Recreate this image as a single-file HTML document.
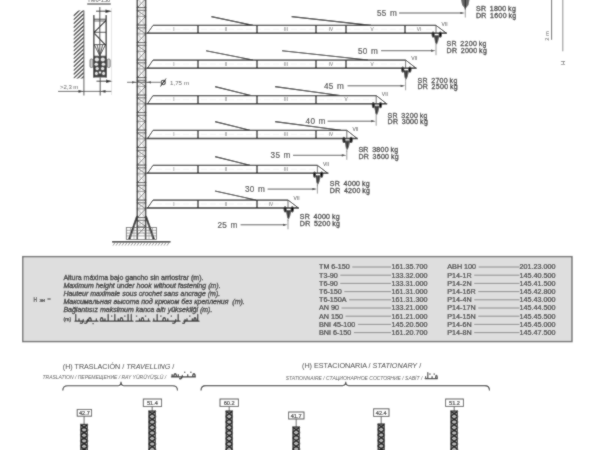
<!DOCTYPE html>
<html><head><meta charset="utf-8"><style>
html,body{margin:0;padding:0;background:#fff;width:600px;height:450px;overflow:hidden}
svg{display:block}
text{font-family:"Liberation Sans",sans-serif}
</style></head><body>
<svg width="600" height="450" viewBox="0 0 600 450">
<defs>
<filter id="bl" x="0" y="0" width="600" height="450" filterUnits="userSpaceOnUse"><feConvolveMatrix order="3" kernelMatrix="1 2 1 2 14 2 1 2 1" edgeMode="duplicate" preserveAlpha="true"/></filter>
<clipPath id="wallclip"><rect x="73.5" y="10.5" width="10.4" height="68.1"/></clipPath>

</defs>
<g filter="url(#bl)">
<rect width="600" height="450" fill="#fff"/>
<rect x="136.6" y="0" width="9.700000000000017" height="228" fill="#ffffff"/>
<line x1="136.60" y1="-9.90" x2="146.30" y2="-9.90" stroke="#222" stroke-width="0.9" />
<line x1="136.60" y1="-7.20" x2="146.30" y2="-7.20" stroke="#333" stroke-width="0.8" />
<line x1="136.60" y1="-1.10" x2="146.30" y2="-1.10" stroke="#666" stroke-width="0.7" />
<line x1="137.60" y1="-6.80" x2="145.30" y2="-1.40" stroke="#555" stroke-width="0.8" />
<line x1="145.30" y1="-6.80" x2="137.60" y2="-1.40" stroke="#999" stroke-width="0.5" />
<line x1="145.30" y1="-0.80" x2="137.60" y2="7.40" stroke="#555" stroke-width="0.8" />
<line x1="137.60" y1="-0.80" x2="145.30" y2="7.40" stroke="#999" stroke-width="0.5" />
<line x1="136.60" y1="7.60" x2="146.30" y2="7.60" stroke="#222" stroke-width="0.9" />
<line x1="136.60" y1="10.30" x2="146.30" y2="10.30" stroke="#333" stroke-width="0.8" />
<line x1="136.60" y1="16.40" x2="146.30" y2="16.40" stroke="#666" stroke-width="0.7" />
<line x1="137.60" y1="10.70" x2="145.30" y2="16.10" stroke="#555" stroke-width="0.8" />
<line x1="145.30" y1="10.70" x2="137.60" y2="16.10" stroke="#999" stroke-width="0.5" />
<line x1="145.30" y1="16.70" x2="137.60" y2="24.90" stroke="#555" stroke-width="0.8" />
<line x1="137.60" y1="16.70" x2="145.30" y2="24.90" stroke="#999" stroke-width="0.5" />
<line x1="136.60" y1="25.10" x2="146.30" y2="25.10" stroke="#222" stroke-width="0.9" />
<line x1="136.60" y1="27.80" x2="146.30" y2="27.80" stroke="#333" stroke-width="0.8" />
<line x1="136.60" y1="33.90" x2="146.30" y2="33.90" stroke="#666" stroke-width="0.7" />
<line x1="137.60" y1="28.20" x2="145.30" y2="33.60" stroke="#555" stroke-width="0.8" />
<line x1="145.30" y1="28.20" x2="137.60" y2="33.60" stroke="#999" stroke-width="0.5" />
<line x1="145.30" y1="34.20" x2="137.60" y2="42.40" stroke="#555" stroke-width="0.8" />
<line x1="137.60" y1="34.20" x2="145.30" y2="42.40" stroke="#999" stroke-width="0.5" />
<line x1="136.60" y1="42.60" x2="146.30" y2="42.60" stroke="#222" stroke-width="0.9" />
<line x1="136.60" y1="45.30" x2="146.30" y2="45.30" stroke="#333" stroke-width="0.8" />
<line x1="136.60" y1="51.40" x2="146.30" y2="51.40" stroke="#666" stroke-width="0.7" />
<line x1="137.60" y1="45.70" x2="145.30" y2="51.10" stroke="#555" stroke-width="0.8" />
<line x1="145.30" y1="45.70" x2="137.60" y2="51.10" stroke="#999" stroke-width="0.5" />
<line x1="145.30" y1="51.70" x2="137.60" y2="59.90" stroke="#555" stroke-width="0.8" />
<line x1="137.60" y1="51.70" x2="145.30" y2="59.90" stroke="#999" stroke-width="0.5" />
<line x1="136.60" y1="60.10" x2="146.30" y2="60.10" stroke="#222" stroke-width="0.9" />
<line x1="136.60" y1="62.80" x2="146.30" y2="62.80" stroke="#333" stroke-width="0.8" />
<line x1="136.60" y1="68.90" x2="146.30" y2="68.90" stroke="#666" stroke-width="0.7" />
<line x1="137.60" y1="63.20" x2="145.30" y2="68.60" stroke="#555" stroke-width="0.8" />
<line x1="145.30" y1="63.20" x2="137.60" y2="68.60" stroke="#999" stroke-width="0.5" />
<line x1="145.30" y1="69.20" x2="137.60" y2="77.40" stroke="#555" stroke-width="0.8" />
<line x1="137.60" y1="69.20" x2="145.30" y2="77.40" stroke="#999" stroke-width="0.5" />
<line x1="136.60" y1="77.60" x2="146.30" y2="77.60" stroke="#222" stroke-width="0.9" />
<line x1="136.60" y1="80.30" x2="146.30" y2="80.30" stroke="#333" stroke-width="0.8" />
<line x1="136.60" y1="86.40" x2="146.30" y2="86.40" stroke="#666" stroke-width="0.7" />
<line x1="137.60" y1="80.70" x2="145.30" y2="86.10" stroke="#555" stroke-width="0.8" />
<line x1="145.30" y1="80.70" x2="137.60" y2="86.10" stroke="#999" stroke-width="0.5" />
<line x1="145.30" y1="86.70" x2="137.60" y2="94.90" stroke="#555" stroke-width="0.8" />
<line x1="137.60" y1="86.70" x2="145.30" y2="94.90" stroke="#999" stroke-width="0.5" />
<line x1="136.60" y1="95.10" x2="146.30" y2="95.10" stroke="#222" stroke-width="0.9" />
<line x1="136.60" y1="97.80" x2="146.30" y2="97.80" stroke="#333" stroke-width="0.8" />
<line x1="136.60" y1="103.90" x2="146.30" y2="103.90" stroke="#666" stroke-width="0.7" />
<line x1="137.60" y1="98.20" x2="145.30" y2="103.60" stroke="#555" stroke-width="0.8" />
<line x1="145.30" y1="98.20" x2="137.60" y2="103.60" stroke="#999" stroke-width="0.5" />
<line x1="145.30" y1="104.20" x2="137.60" y2="112.40" stroke="#555" stroke-width="0.8" />
<line x1="137.60" y1="104.20" x2="145.30" y2="112.40" stroke="#999" stroke-width="0.5" />
<line x1="136.60" y1="112.60" x2="146.30" y2="112.60" stroke="#222" stroke-width="0.9" />
<line x1="136.60" y1="115.30" x2="146.30" y2="115.30" stroke="#333" stroke-width="0.8" />
<line x1="136.60" y1="121.40" x2="146.30" y2="121.40" stroke="#666" stroke-width="0.7" />
<line x1="137.60" y1="115.70" x2="145.30" y2="121.10" stroke="#555" stroke-width="0.8" />
<line x1="145.30" y1="115.70" x2="137.60" y2="121.10" stroke="#999" stroke-width="0.5" />
<line x1="145.30" y1="121.70" x2="137.60" y2="129.90" stroke="#555" stroke-width="0.8" />
<line x1="137.60" y1="121.70" x2="145.30" y2="129.90" stroke="#999" stroke-width="0.5" />
<line x1="136.60" y1="130.10" x2="146.30" y2="130.10" stroke="#222" stroke-width="0.9" />
<line x1="136.60" y1="132.80" x2="146.30" y2="132.80" stroke="#333" stroke-width="0.8" />
<line x1="136.60" y1="138.90" x2="146.30" y2="138.90" stroke="#666" stroke-width="0.7" />
<line x1="137.60" y1="133.20" x2="145.30" y2="138.60" stroke="#555" stroke-width="0.8" />
<line x1="145.30" y1="133.20" x2="137.60" y2="138.60" stroke="#999" stroke-width="0.5" />
<line x1="145.30" y1="139.20" x2="137.60" y2="147.40" stroke="#555" stroke-width="0.8" />
<line x1="137.60" y1="139.20" x2="145.30" y2="147.40" stroke="#999" stroke-width="0.5" />
<line x1="136.60" y1="147.60" x2="146.30" y2="147.60" stroke="#222" stroke-width="0.9" />
<line x1="136.60" y1="150.30" x2="146.30" y2="150.30" stroke="#333" stroke-width="0.8" />
<line x1="136.60" y1="156.40" x2="146.30" y2="156.40" stroke="#666" stroke-width="0.7" />
<line x1="137.60" y1="150.70" x2="145.30" y2="156.10" stroke="#555" stroke-width="0.8" />
<line x1="145.30" y1="150.70" x2="137.60" y2="156.10" stroke="#999" stroke-width="0.5" />
<line x1="145.30" y1="156.70" x2="137.60" y2="164.90" stroke="#555" stroke-width="0.8" />
<line x1="137.60" y1="156.70" x2="145.30" y2="164.90" stroke="#999" stroke-width="0.5" />
<line x1="136.60" y1="165.10" x2="146.30" y2="165.10" stroke="#222" stroke-width="0.9" />
<line x1="136.60" y1="167.80" x2="146.30" y2="167.80" stroke="#333" stroke-width="0.8" />
<line x1="136.60" y1="173.90" x2="146.30" y2="173.90" stroke="#666" stroke-width="0.7" />
<line x1="137.60" y1="168.20" x2="145.30" y2="173.60" stroke="#555" stroke-width="0.8" />
<line x1="145.30" y1="168.20" x2="137.60" y2="173.60" stroke="#999" stroke-width="0.5" />
<line x1="145.30" y1="174.20" x2="137.60" y2="182.40" stroke="#555" stroke-width="0.8" />
<line x1="137.60" y1="174.20" x2="145.30" y2="182.40" stroke="#999" stroke-width="0.5" />
<line x1="136.60" y1="182.60" x2="146.30" y2="182.60" stroke="#222" stroke-width="0.9" />
<line x1="136.60" y1="185.30" x2="146.30" y2="185.30" stroke="#333" stroke-width="0.8" />
<line x1="136.60" y1="191.40" x2="146.30" y2="191.40" stroke="#666" stroke-width="0.7" />
<line x1="137.60" y1="185.70" x2="145.30" y2="191.10" stroke="#555" stroke-width="0.8" />
<line x1="145.30" y1="185.70" x2="137.60" y2="191.10" stroke="#999" stroke-width="0.5" />
<line x1="145.30" y1="191.70" x2="137.60" y2="199.90" stroke="#555" stroke-width="0.8" />
<line x1="137.60" y1="191.70" x2="145.30" y2="199.90" stroke="#999" stroke-width="0.5" />
<line x1="136.60" y1="200.10" x2="146.30" y2="200.10" stroke="#222" stroke-width="0.9" />
<line x1="136.60" y1="202.80" x2="146.30" y2="202.80" stroke="#333" stroke-width="0.8" />
<line x1="136.60" y1="208.90" x2="146.30" y2="208.90" stroke="#666" stroke-width="0.7" />
<line x1="137.60" y1="203.20" x2="145.30" y2="208.60" stroke="#555" stroke-width="0.8" />
<line x1="145.30" y1="203.20" x2="137.60" y2="208.60" stroke="#999" stroke-width="0.5" />
<line x1="145.30" y1="209.20" x2="137.60" y2="217.40" stroke="#555" stroke-width="0.8" />
<line x1="137.60" y1="209.20" x2="145.30" y2="217.40" stroke="#999" stroke-width="0.5" />
<line x1="136.60" y1="217.60" x2="146.30" y2="217.60" stroke="#222" stroke-width="0.9" />
<line x1="136.60" y1="220.30" x2="146.30" y2="220.30" stroke="#333" stroke-width="0.8" />
<line x1="136.60" y1="226.40" x2="146.30" y2="226.40" stroke="#666" stroke-width="0.7" />
<line x1="137.60" y1="220.70" x2="145.30" y2="226.10" stroke="#555" stroke-width="0.8" />
<line x1="145.30" y1="220.70" x2="137.60" y2="226.10" stroke="#999" stroke-width="0.5" />
<line x1="145.30" y1="226.70" x2="137.60" y2="234.90" stroke="#555" stroke-width="0.8" />
<line x1="137.60" y1="226.70" x2="145.30" y2="234.90" stroke="#999" stroke-width="0.5" />
<line x1="139.90" y1="0.00" x2="139.90" y2="228.00" stroke="#aaa" stroke-width="0.5" />
<line x1="143.20" y1="0.00" x2="143.20" y2="228.00" stroke="#aaa" stroke-width="0.5" />
<line x1="137.30" y1="0.00" x2="137.30" y2="240.00" stroke="#333" stroke-width="1.5" />
<line x1="145.60" y1="0.00" x2="145.60" y2="240.00" stroke="#333" stroke-width="1.5" />
<line x1="137.00" y1="216.00" x2="128.80" y2="239.50" stroke="#1e1e1e" stroke-width="1.6" />
<line x1="146.00" y1="216.00" x2="154.20" y2="239.50" stroke="#1e1e1e" stroke-width="1.6" />
<rect x="126.3" y="227.5" width="30.2" height="12" fill="none" stroke="#555" stroke-width="0.8"/>
<line x1="126.30" y1="230.30" x2="156.50" y2="230.30" stroke="#666" stroke-width="0.6" />
<line x1="126.30" y1="233.10" x2="156.50" y2="233.10" stroke="#666" stroke-width="0.6" />
<line x1="126.30" y1="235.90" x2="156.50" y2="235.90" stroke="#666" stroke-width="0.6" />
<line x1="130.50" y1="227.50" x2="130.50" y2="239.50" stroke="#777" stroke-width="0.5" />
<line x1="134.00" y1="227.50" x2="134.00" y2="239.50" stroke="#777" stroke-width="0.5" />
<line x1="149.00" y1="227.50" x2="149.00" y2="239.50" stroke="#777" stroke-width="0.5" />
<line x1="152.50" y1="227.50" x2="152.50" y2="239.50" stroke="#777" stroke-width="0.5" />
<line x1="137.50" y1="217.00" x2="130.00" y2="239.50" stroke="#444" stroke-width="0.8" />
<line x1="145.50" y1="217.00" x2="153.00" y2="239.50" stroke="#444" stroke-width="0.8" />
<line x1="112.00" y1="241.80" x2="170.50" y2="241.80" stroke="#1e1e1e" stroke-width="1.4" />
<line x1="115.00" y1="242.50" x2="113.00" y2="245.60" stroke="#666" stroke-width="0.7" />
<line x1="118.00" y1="242.50" x2="116.00" y2="245.60" stroke="#666" stroke-width="0.7" />
<line x1="121.00" y1="242.50" x2="119.00" y2="245.60" stroke="#666" stroke-width="0.7" />
<line x1="124.00" y1="242.50" x2="122.00" y2="245.60" stroke="#666" stroke-width="0.7" />
<line x1="127.00" y1="242.50" x2="125.00" y2="245.60" stroke="#666" stroke-width="0.7" />
<line x1="130.00" y1="242.50" x2="128.00" y2="245.60" stroke="#666" stroke-width="0.7" />
<line x1="133.00" y1="242.50" x2="131.00" y2="245.60" stroke="#666" stroke-width="0.7" />
<line x1="136.00" y1="242.50" x2="134.00" y2="245.60" stroke="#666" stroke-width="0.7" />
<line x1="139.00" y1="242.50" x2="137.00" y2="245.60" stroke="#666" stroke-width="0.7" />
<line x1="142.00" y1="242.50" x2="140.00" y2="245.60" stroke="#666" stroke-width="0.7" />
<line x1="145.00" y1="242.50" x2="143.00" y2="245.60" stroke="#666" stroke-width="0.7" />
<line x1="148.00" y1="242.50" x2="146.00" y2="245.60" stroke="#666" stroke-width="0.7" />
<line x1="151.00" y1="242.50" x2="149.00" y2="245.60" stroke="#666" stroke-width="0.7" />
<line x1="154.00" y1="242.50" x2="152.00" y2="245.60" stroke="#666" stroke-width="0.7" />
<line x1="157.00" y1="242.50" x2="155.00" y2="245.60" stroke="#666" stroke-width="0.7" />
<line x1="160.00" y1="242.50" x2="158.00" y2="245.60" stroke="#666" stroke-width="0.7" />
<line x1="163.00" y1="242.50" x2="161.00" y2="245.60" stroke="#666" stroke-width="0.7" />
<line x1="166.00" y1="242.50" x2="164.00" y2="245.60" stroke="#666" stroke-width="0.7" />
<line x1="169.00" y1="242.50" x2="167.00" y2="245.60" stroke="#666" stroke-width="0.7" />
<line x1="153.00" y1="25.40" x2="436.00" y2="25.40" stroke="#1e1e1e" stroke-width="1.25" />
<line x1="146.50" y1="33.20" x2="447.00" y2="33.20" stroke="#1e1e1e" stroke-width="1.5" />
<line x1="147.50" y1="33.20" x2="153.00" y2="25.40" stroke="#1e1e1e" stroke-width="1.0" />
<line x1="436.00" y1="25.40" x2="446.50" y2="33.20" stroke="#1e1e1e" stroke-width="1.0" />
<line x1="156.00" y1="29.30" x2="434.00" y2="29.30" stroke="#dedede" stroke-width="0.35" stroke-dasharray="6,3"/>
<line x1="198.00" y1="25.40" x2="198.00" y2="33.20" stroke="#1e1e1e" stroke-width="1.3" />
<line x1="257.00" y1="25.40" x2="257.00" y2="33.20" stroke="#1e1e1e" stroke-width="1.3" />
<line x1="316.00" y1="25.40" x2="316.00" y2="33.20" stroke="#1e1e1e" stroke-width="1.3" />
<line x1="346.00" y1="25.40" x2="346.00" y2="33.20" stroke="#1e1e1e" stroke-width="1.3" />
<line x1="405.00" y1="25.40" x2="405.00" y2="33.20" stroke="#1e1e1e" stroke-width="1.3" />
<line x1="436.00" y1="25.40" x2="436.00" y2="33.20" stroke="#444" stroke-width="0.8" />
<text x="174.00" y="31.00" font-size="4.7" fill="#666" text-anchor="middle" >I</text>
<text x="226.00" y="31.00" font-size="4.7" fill="#666" text-anchor="middle" >II</text>
<text x="286.00" y="31.00" font-size="4.7" fill="#666" text-anchor="middle" >III</text>
<text x="331.00" y="31.00" font-size="4.7" fill="#666" text-anchor="middle" >IV</text>
<text x="372.00" y="31.00" font-size="4.7" fill="#666" text-anchor="middle" >V</text>
<text x="419.00" y="31.00" font-size="4.7" fill="#666" text-anchor="middle" >VI</text>
<line x1="211.40" y1="16.60" x2="253.00" y2="25.40" stroke="#111" stroke-width="1.15" />
<line x1="291.60" y1="16.60" x2="371.00" y2="25.40" stroke="#111" stroke-width="1.15" />
<text x="441.60" y="25.70" font-size="5.0" fill="#444" text-anchor="start" >VII</text>
<ellipse cx="433.1" cy="34.5" rx="1.5" ry="3.1" fill="#222"/>
<ellipse cx="440.3" cy="34.5" rx="1.6" ry="3.1" fill="#111"/>
<path d="M433.8,35.2 L439.6,35.2 L438.2,41.2 L437.0,44.2 L436.2,44.2 L435.0,41.2 Z" fill="#555"/>
<line x1="434.90" y1="35.20" x2="435.50" y2="43.20" stroke="#222" stroke-width="0.6" />
<line x1="437.10" y1="35.20" x2="436.50" y2="43.20" stroke="#222" stroke-width="0.6" />
<line x1="436.00" y1="43.20" x2="436.00" y2="46.20" stroke="#555" stroke-width="0.6" />
<line x1="153.00" y1="60.00" x2="405.60" y2="60.00" stroke="#1e1e1e" stroke-width="1.25" />
<line x1="146.50" y1="68.20" x2="416.60" y2="68.20" stroke="#1e1e1e" stroke-width="1.5" />
<line x1="147.50" y1="68.20" x2="153.00" y2="60.00" stroke="#1e1e1e" stroke-width="1.0" />
<line x1="405.60" y1="60.00" x2="416.10" y2="68.20" stroke="#1e1e1e" stroke-width="1.0" />
<line x1="156.00" y1="64.10" x2="403.60" y2="64.10" stroke="#dedede" stroke-width="0.35" stroke-dasharray="6,3"/>
<line x1="198.00" y1="60.00" x2="198.00" y2="68.20" stroke="#1e1e1e" stroke-width="1.3" />
<line x1="257.00" y1="60.00" x2="257.00" y2="68.20" stroke="#1e1e1e" stroke-width="1.3" />
<line x1="316.00" y1="60.00" x2="316.00" y2="68.20" stroke="#1e1e1e" stroke-width="1.3" />
<line x1="346.00" y1="60.00" x2="346.00" y2="68.20" stroke="#1e1e1e" stroke-width="1.3" />
<line x1="405.60" y1="60.00" x2="405.60" y2="68.20" stroke="#444" stroke-width="0.8" />
<text x="174.00" y="65.80" font-size="4.7" fill="#666" text-anchor="middle" >I</text>
<text x="226.00" y="65.80" font-size="4.7" fill="#666" text-anchor="middle" >II</text>
<text x="286.00" y="65.80" font-size="4.7" fill="#666" text-anchor="middle" >III</text>
<text x="331.00" y="65.80" font-size="4.7" fill="#666" text-anchor="middle" >IV</text>
<text x="372.00" y="65.80" font-size="4.7" fill="#666" text-anchor="middle" >V</text>
<line x1="206.00" y1="50.80" x2="253.00" y2="60.00" stroke="#111" stroke-width="1.15" />
<line x1="282.00" y1="50.80" x2="368.00" y2="60.00" stroke="#111" stroke-width="1.15" />
<text x="411.20" y="60.30" font-size="5.0" fill="#444" text-anchor="start" >VII</text>
<ellipse cx="402.70000000000005" cy="69.5" rx="1.5" ry="3.1" fill="#222"/>
<ellipse cx="409.90000000000003" cy="69.5" rx="1.6" ry="3.1" fill="#111"/>
<path d="M403.40000000000003,70.2 L409.20000000000005,70.2 L407.8,76.2 L406.6,79.2 L405.8,79.2 L404.6,76.2 Z" fill="#555"/>
<line x1="404.50" y1="70.20" x2="405.10" y2="78.20" stroke="#222" stroke-width="0.6" />
<line x1="406.70" y1="70.20" x2="406.10" y2="78.20" stroke="#222" stroke-width="0.6" />
<line x1="405.60" y1="78.20" x2="405.60" y2="81.20" stroke="#555" stroke-width="0.6" />
<line x1="153.00" y1="95.50" x2="376.20" y2="95.50" stroke="#1e1e1e" stroke-width="1.25" />
<line x1="146.50" y1="103.80" x2="387.20" y2="103.80" stroke="#1e1e1e" stroke-width="1.5" />
<line x1="147.50" y1="103.80" x2="153.00" y2="95.50" stroke="#1e1e1e" stroke-width="1.0" />
<line x1="376.20" y1="95.50" x2="386.70" y2="103.80" stroke="#1e1e1e" stroke-width="1.0" />
<line x1="156.00" y1="99.65" x2="374.20" y2="99.65" stroke="#dedede" stroke-width="0.35" stroke-dasharray="6,3"/>
<line x1="198.00" y1="95.50" x2="198.00" y2="103.80" stroke="#1e1e1e" stroke-width="1.3" />
<line x1="257.00" y1="95.50" x2="257.00" y2="103.80" stroke="#1e1e1e" stroke-width="1.3" />
<line x1="316.00" y1="95.50" x2="316.00" y2="103.80" stroke="#1e1e1e" stroke-width="1.3" />
<line x1="376.20" y1="95.50" x2="376.20" y2="103.80" stroke="#444" stroke-width="0.8" />
<text x="174.00" y="101.35" font-size="4.7" fill="#666" text-anchor="middle" >I</text>
<text x="226.00" y="101.35" font-size="4.7" fill="#666" text-anchor="middle" >II</text>
<text x="286.00" y="101.35" font-size="4.7" fill="#666" text-anchor="middle" >III</text>
<text x="346.00" y="101.35" font-size="4.7" fill="#666" text-anchor="middle" >V</text>
<line x1="215.00" y1="86.60" x2="251.00" y2="95.50" stroke="#111" stroke-width="1.15" />
<line x1="275.00" y1="86.60" x2="340.00" y2="95.50" stroke="#111" stroke-width="1.15" />
<text x="381.80" y="95.80" font-size="5.0" fill="#444" text-anchor="start" >VII</text>
<ellipse cx="373.3" cy="105.1" rx="1.5" ry="3.1" fill="#222"/>
<ellipse cx="380.5" cy="105.1" rx="1.6" ry="3.1" fill="#111"/>
<path d="M374.0,105.8 L379.8,105.8 L378.4,111.8 L377.2,114.8 L376.4,114.8 L375.2,111.8 Z" fill="#555"/>
<line x1="375.10" y1="105.80" x2="375.70" y2="113.80" stroke="#222" stroke-width="0.6" />
<line x1="377.30" y1="105.80" x2="376.70" y2="113.80" stroke="#222" stroke-width="0.6" />
<line x1="376.20" y1="113.80" x2="376.20" y2="116.80" stroke="#555" stroke-width="0.6" />
<line x1="153.00" y1="130.30" x2="346.80" y2="130.30" stroke="#1e1e1e" stroke-width="1.25" />
<line x1="146.50" y1="138.60" x2="357.80" y2="138.60" stroke="#1e1e1e" stroke-width="1.5" />
<line x1="147.50" y1="138.60" x2="153.00" y2="130.30" stroke="#1e1e1e" stroke-width="1.0" />
<line x1="346.80" y1="130.30" x2="357.30" y2="138.60" stroke="#1e1e1e" stroke-width="1.0" />
<line x1="156.00" y1="134.45" x2="344.80" y2="134.45" stroke="#dedede" stroke-width="0.35" stroke-dasharray="6,3"/>
<line x1="198.00" y1="130.30" x2="198.00" y2="138.60" stroke="#1e1e1e" stroke-width="1.3" />
<line x1="257.00" y1="130.30" x2="257.00" y2="138.60" stroke="#1e1e1e" stroke-width="1.3" />
<line x1="316.00" y1="130.30" x2="316.00" y2="138.60" stroke="#1e1e1e" stroke-width="1.3" />
<line x1="346.80" y1="130.30" x2="346.80" y2="138.60" stroke="#444" stroke-width="0.8" />
<text x="174.00" y="136.15" font-size="4.7" fill="#666" text-anchor="middle" >I</text>
<text x="226.00" y="136.15" font-size="4.7" fill="#666" text-anchor="middle" >II</text>
<text x="286.00" y="136.15" font-size="4.7" fill="#666" text-anchor="middle" >III</text>
<text x="331.00" y="136.15" font-size="4.7" fill="#666" text-anchor="middle" >IV</text>
<line x1="215.00" y1="121.60" x2="250.00" y2="130.30" stroke="#111" stroke-width="1.15" />
<line x1="275.00" y1="121.60" x2="341.00" y2="130.30" stroke="#111" stroke-width="1.15" />
<text x="352.40" y="130.60" font-size="5.0" fill="#444" text-anchor="start" >VII</text>
<ellipse cx="343.90000000000003" cy="139.9" rx="1.5" ry="3.1" fill="#222"/>
<ellipse cx="351.1" cy="139.9" rx="1.6" ry="3.1" fill="#111"/>
<path d="M344.6,140.6 L350.40000000000003,140.6 L349.0,146.6 L347.8,149.6 L347.0,149.6 L345.8,146.6 Z" fill="#555"/>
<line x1="345.70" y1="140.60" x2="346.30" y2="148.60" stroke="#222" stroke-width="0.6" />
<line x1="347.90" y1="140.60" x2="347.30" y2="148.60" stroke="#222" stroke-width="0.6" />
<line x1="346.80" y1="148.60" x2="346.80" y2="151.60" stroke="#555" stroke-width="0.6" />
<line x1="153.00" y1="165.30" x2="317.40" y2="165.30" stroke="#1e1e1e" stroke-width="1.25" />
<line x1="146.50" y1="173.30" x2="328.40" y2="173.30" stroke="#1e1e1e" stroke-width="1.5" />
<line x1="147.50" y1="173.30" x2="153.00" y2="165.30" stroke="#1e1e1e" stroke-width="1.0" />
<line x1="317.40" y1="165.30" x2="327.90" y2="173.30" stroke="#1e1e1e" stroke-width="1.0" />
<line x1="156.00" y1="169.30" x2="315.40" y2="169.30" stroke="#dedede" stroke-width="0.35" stroke-dasharray="6,3"/>
<line x1="198.00" y1="165.30" x2="198.00" y2="173.30" stroke="#1e1e1e" stroke-width="1.3" />
<line x1="257.00" y1="165.30" x2="257.00" y2="173.30" stroke="#1e1e1e" stroke-width="1.3" />
<line x1="317.40" y1="165.30" x2="317.40" y2="173.30" stroke="#444" stroke-width="0.8" />
<text x="174.00" y="171.00" font-size="4.7" fill="#666" text-anchor="middle" >I</text>
<text x="226.00" y="171.00" font-size="4.7" fill="#666" text-anchor="middle" >II</text>
<text x="286.00" y="171.00" font-size="4.7" fill="#666" text-anchor="middle" >III</text>
<line x1="215.00" y1="156.60" x2="250.00" y2="165.30" stroke="#111" stroke-width="1.15" />
<text x="323.00" y="165.60" font-size="5.0" fill="#444" text-anchor="start" >VII</text>
<ellipse cx="314.5" cy="174.60000000000002" rx="1.5" ry="3.1" fill="#222"/>
<ellipse cx="321.7" cy="174.60000000000002" rx="1.6" ry="3.1" fill="#111"/>
<path d="M315.2,175.3 L321.0,175.3 L319.59999999999997,181.3 L318.4,184.3 L317.59999999999997,184.3 L316.4,181.3 Z" fill="#555"/>
<line x1="316.30" y1="175.30" x2="316.90" y2="183.30" stroke="#222" stroke-width="0.6" />
<line x1="318.50" y1="175.30" x2="317.90" y2="183.30" stroke="#222" stroke-width="0.6" />
<line x1="317.40" y1="183.30" x2="317.40" y2="186.30" stroke="#555" stroke-width="0.6" />
<line x1="153.00" y1="200.00" x2="288.00" y2="200.00" stroke="#1e1e1e" stroke-width="1.25" />
<line x1="146.50" y1="208.00" x2="299.00" y2="208.00" stroke="#1e1e1e" stroke-width="1.5" />
<line x1="147.50" y1="208.00" x2="153.00" y2="200.00" stroke="#1e1e1e" stroke-width="1.0" />
<line x1="288.00" y1="200.00" x2="298.50" y2="208.00" stroke="#1e1e1e" stroke-width="1.0" />
<line x1="156.00" y1="204.00" x2="286.00" y2="204.00" stroke="#dedede" stroke-width="0.35" stroke-dasharray="6,3"/>
<line x1="198.00" y1="200.00" x2="198.00" y2="208.00" stroke="#1e1e1e" stroke-width="1.3" />
<line x1="257.00" y1="200.00" x2="257.00" y2="208.00" stroke="#1e1e1e" stroke-width="1.3" />
<line x1="288.00" y1="200.00" x2="288.00" y2="208.00" stroke="#444" stroke-width="0.8" />
<text x="174.00" y="205.70" font-size="4.7" fill="#666" text-anchor="middle" >I</text>
<text x="226.00" y="205.70" font-size="4.7" fill="#666" text-anchor="middle" >II</text>
<text x="271.00" y="205.70" font-size="4.7" fill="#666" text-anchor="middle" >IV</text>
<line x1="215.00" y1="191.00" x2="256.00" y2="200.00" stroke="#111" stroke-width="1.15" />
<text x="293.60" y="200.30" font-size="5.0" fill="#444" text-anchor="start" >VII</text>
<ellipse cx="285.1" cy="209.3" rx="1.5" ry="3.1" fill="#222"/>
<ellipse cx="292.3" cy="209.3" rx="1.6" ry="3.1" fill="#111"/>
<path d="M285.8,210.0 L291.6,210.0 L290.2,216.0 L289.0,219.0 L288.2,219.0 L287.0,216.0 Z" fill="#555"/>
<line x1="286.90" y1="210.00" x2="287.50" y2="218.00" stroke="#222" stroke-width="0.6" />
<line x1="289.10" y1="210.00" x2="288.50" y2="218.00" stroke="#222" stroke-width="0.6" />
<line x1="288.00" y1="218.00" x2="288.00" y2="221.00" stroke="#555" stroke-width="0.6" />
<path d="M460.8,-1 L469.7,-1 L468.5,5 L466.1,8 L465.3,9.8 L464.5,8 L462.1,5 Z" fill="#666"/>
<line x1="465.30" y1="-1.00" x2="465.30" y2="9.50" stroke="#222" stroke-width="1.0" />
<text x="377.00" y="15.70" font-size="8.2" fill="#333" text-anchor="start" letter-spacing="0.3" stroke="#333" stroke-width="0.12">55<tspan dx="3.2">m</tspan></text>
<line x1="399.00" y1="13.00" x2="462.30" y2="13.00" stroke="#444" stroke-width="0.9" />
<path d="M464.8,13.0 L460.3,11.9 L460.3,14.1 Z" fill="#333"/>
<line x1="465.30" y1="8.50" x2="465.30" y2="17.50" stroke="#555" stroke-width="0.6" />
<text x="358.00" y="53.50" font-size="8.2" fill="#333" text-anchor="start" letter-spacing="0.3" stroke="#333" stroke-width="0.12">50<tspan dx="3.2">m</tspan></text>
<line x1="381.00" y1="50.70" x2="433.00" y2="50.70" stroke="#444" stroke-width="0.9" />
<path d="M435.5,50.7 L431.0,49.6 L431.0,51.800000000000004 Z" fill="#333"/>
<line x1="436.00" y1="46.20" x2="436.00" y2="55.20" stroke="#555" stroke-width="0.6" />
<text x="324.00" y="88.60" font-size="8.2" fill="#333" text-anchor="start" letter-spacing="0.3" stroke="#333" stroke-width="0.12">45<tspan dx="3.2">m</tspan></text>
<line x1="347.50" y1="85.80" x2="402.60" y2="85.80" stroke="#444" stroke-width="0.9" />
<path d="M405.1,85.8 L400.6,84.7 L400.6,86.89999999999999 Z" fill="#333"/>
<line x1="405.60" y1="81.30" x2="405.60" y2="90.30" stroke="#555" stroke-width="0.6" />
<text x="305.60" y="124.20" font-size="8.2" fill="#333" text-anchor="start" letter-spacing="0.3" stroke="#333" stroke-width="0.12">40<tspan dx="3.2">m</tspan></text>
<line x1="327.60" y1="121.20" x2="373.20" y2="121.20" stroke="#444" stroke-width="0.9" />
<path d="M375.7,121.2 L371.2,120.10000000000001 L371.2,122.3 Z" fill="#333"/>
<line x1="376.20" y1="116.70" x2="376.20" y2="125.70" stroke="#555" stroke-width="0.6" />
<text x="270.60" y="158.30" font-size="8.2" fill="#333" text-anchor="start" letter-spacing="0.3" stroke="#333" stroke-width="0.12">35<tspan dx="3.2">m</tspan></text>
<line x1="293.00" y1="155.30" x2="343.80" y2="155.30" stroke="#444" stroke-width="0.9" />
<path d="M346.3,155.3 L341.8,154.20000000000002 L341.8,156.4 Z" fill="#333"/>
<line x1="346.80" y1="150.80" x2="346.80" y2="159.80" stroke="#555" stroke-width="0.6" />
<text x="245.00" y="191.80" font-size="8.2" fill="#333" text-anchor="start" letter-spacing="0.3" stroke="#333" stroke-width="0.12">30<tspan dx="3.2">m</tspan></text>
<line x1="267.60" y1="189.10" x2="314.40" y2="189.10" stroke="#444" stroke-width="0.9" />
<path d="M316.9,189.1 L312.4,188.0 L312.4,190.2 Z" fill="#333"/>
<line x1="317.40" y1="184.60" x2="317.40" y2="193.60" stroke="#555" stroke-width="0.6" />
<text x="217.50" y="227.80" font-size="8.2" fill="#333" text-anchor="start" letter-spacing="0.3" stroke="#333" stroke-width="0.12">25<tspan dx="3.2">m</tspan></text>
<line x1="240.60" y1="224.80" x2="285.00" y2="224.80" stroke="#444" stroke-width="0.9" />
<path d="M287.5,224.8 L283.0,223.70000000000002 L283.0,225.9 Z" fill="#333"/>
<line x1="288.00" y1="220.30" x2="288.00" y2="229.30" stroke="#555" stroke-width="0.6" />
<text x="476.00" y="10.80" font-size="7.0" fill="#333" text-anchor="start" letter-spacing="0.3" stroke="#333" stroke-width="0.28">SR<tspan dx="3.4">1800</tspan><tspan dx="1.6">kg</tspan></text>
<text x="476.00" y="17.60" font-size="7.0" fill="#333" text-anchor="start" letter-spacing="0.3" stroke="#333" stroke-width="0.28">DR<tspan dx="3.4">1600</tspan><tspan dx="1.6">kg</tspan></text>
<text x="446.60" y="46.30" font-size="7.0" fill="#333" text-anchor="start" letter-spacing="0.3" stroke="#333" stroke-width="0.28">SR<tspan dx="3.4">2200</tspan><tspan dx="1.6">kg</tspan></text>
<text x="446.60" y="52.90" font-size="7.0" fill="#333" text-anchor="start" letter-spacing="0.3" stroke="#333" stroke-width="0.28">DR<tspan dx="3.4">2000</tspan><tspan dx="1.6">kg</tspan></text>
<text x="417.50" y="82.90" font-size="7.0" fill="#333" text-anchor="start" letter-spacing="0.3" stroke="#333" stroke-width="0.28">SR<tspan dx="3.4">2700</tspan><tspan dx="1.6">kg</tspan></text>
<text x="417.50" y="89.40" font-size="7.0" fill="#333" text-anchor="start" letter-spacing="0.3" stroke="#333" stroke-width="0.28">DR<tspan dx="3.4">2500</tspan><tspan dx="1.6">kg</tspan></text>
<text x="387.60" y="117.90" font-size="7.0" fill="#333" text-anchor="start" letter-spacing="0.3" stroke="#333" stroke-width="0.28">SR<tspan dx="3.4">3200</tspan><tspan dx="1.6">kg</tspan></text>
<text x="387.60" y="124.40" font-size="7.0" fill="#333" text-anchor="start" letter-spacing="0.3" stroke="#333" stroke-width="0.28">DR<tspan dx="3.4">3000</tspan><tspan dx="1.6">kg</tspan></text>
<text x="358.40" y="152.30" font-size="7.0" fill="#333" text-anchor="start" letter-spacing="0.3" stroke="#333" stroke-width="0.28">SR<tspan dx="3.4">3800</tspan><tspan dx="1.6">kg</tspan></text>
<text x="358.40" y="158.80" font-size="7.0" fill="#333" text-anchor="start" letter-spacing="0.3" stroke="#333" stroke-width="0.28">DR<tspan dx="3.4">3600</tspan><tspan dx="1.6">kg</tspan></text>
<text x="329.80" y="185.90" font-size="7.0" fill="#333" text-anchor="start" letter-spacing="0.3" stroke="#333" stroke-width="0.28">SR<tspan dx="3.4">4000</tspan><tspan dx="1.6">kg</tspan></text>
<text x="329.80" y="192.60" font-size="7.0" fill="#333" text-anchor="start" letter-spacing="0.3" stroke="#333" stroke-width="0.28">DR<tspan dx="3.4">4200</tspan><tspan dx="1.6">kg</tspan></text>
<text x="299.80" y="218.90" font-size="7.0" fill="#333" text-anchor="start" letter-spacing="0.3" stroke="#333" stroke-width="0.28">SR<tspan dx="3.4">4000</tspan><tspan dx="1.6">kg</tspan></text>
<text x="299.80" y="226.40" font-size="7.0" fill="#333" text-anchor="start" letter-spacing="0.3" stroke="#333" stroke-width="0.28">DR<tspan dx="3.4">5200</tspan><tspan dx="1.6">kg</tspan></text>
<line x1="127.00" y1="82.30" x2="160.00" y2="82.30" stroke="#444" stroke-width="0.8" />
<path d="M136.5,82.3 L132,81.2 L132,83.4 Z" fill="#333"/>
<path d="M146.5,82.3 L151,81.2 L151,83.4 Z" fill="#333"/>
<text x="160.50" y="84.80" font-size="7" fill="#222" text-anchor="start" stroke="#222" stroke-width="0.3">&#216;</text>
<line x1="160.50" y1="86.50" x2="166.00" y2="78.50" stroke="#222" stroke-width="1.0" />
<text x="170.00" y="84.80" font-size="6.2" fill="#555" text-anchor="start" >1,75<tspan dx="2">m</tspan></text>
<line x1="551.60" y1="0.00" x2="551.60" y2="39.80" stroke="#555" stroke-width="1.0" />
<line x1="562.80" y1="0.00" x2="562.80" y2="51.30" stroke="#888" stroke-width="1.0" />
<text x="0.00" y="0.00" font-size="5.8" fill="#555" text-anchor="middle" transform="translate(549.2,35.9) rotate(-90)">2 m</text>
<text x="0.00" y="0.00" font-size="6.0" fill="#555" text-anchor="middle" transform="translate(565.0,62.8) rotate(-90)" stroke="#555" stroke-width="0.15">H</text>
<text x="98.80" y="2.30" font-size="5.6" fill="#444" text-anchor="middle" textLength="23" lengthAdjust="spacingAndGlyphs">TM6-150</text>
<line x1="87.20" y1="4.00" x2="110.80" y2="4.00" stroke="#333" stroke-width="1.1" />
<line x1="73.5" y1="16.00" x2="84" y2="6.00" stroke="#2a2a2a" stroke-width="1.3" clip-path="url(#wallclip)"/>
<line x1="73.5" y1="19.90" x2="84" y2="9.90" stroke="#2a2a2a" stroke-width="1.3" clip-path="url(#wallclip)"/>
<line x1="73.5" y1="23.80" x2="84" y2="13.80" stroke="#2a2a2a" stroke-width="1.3" clip-path="url(#wallclip)"/>
<line x1="73.5" y1="27.70" x2="84" y2="17.70" stroke="#2a2a2a" stroke-width="1.3" clip-path="url(#wallclip)"/>
<line x1="73.5" y1="31.60" x2="84" y2="21.60" stroke="#2a2a2a" stroke-width="1.3" clip-path="url(#wallclip)"/>
<line x1="73.5" y1="35.50" x2="84" y2="25.50" stroke="#2a2a2a" stroke-width="1.3" clip-path="url(#wallclip)"/>
<line x1="73.5" y1="39.40" x2="84" y2="29.40" stroke="#2a2a2a" stroke-width="1.3" clip-path="url(#wallclip)"/>
<line x1="73.5" y1="43.30" x2="84" y2="33.30" stroke="#2a2a2a" stroke-width="1.3" clip-path="url(#wallclip)"/>
<line x1="73.5" y1="47.20" x2="84" y2="37.20" stroke="#2a2a2a" stroke-width="1.3" clip-path="url(#wallclip)"/>
<line x1="73.5" y1="51.10" x2="84" y2="41.10" stroke="#2a2a2a" stroke-width="1.3" clip-path="url(#wallclip)"/>
<line x1="73.5" y1="55.00" x2="84" y2="45.00" stroke="#2a2a2a" stroke-width="1.3" clip-path="url(#wallclip)"/>
<line x1="73.5" y1="58.90" x2="84" y2="48.90" stroke="#2a2a2a" stroke-width="1.3" clip-path="url(#wallclip)"/>
<line x1="73.5" y1="62.80" x2="84" y2="52.80" stroke="#2a2a2a" stroke-width="1.3" clip-path="url(#wallclip)"/>
<line x1="73.5" y1="66.70" x2="84" y2="56.70" stroke="#2a2a2a" stroke-width="1.3" clip-path="url(#wallclip)"/>
<line x1="73.5" y1="70.60" x2="84" y2="60.60" stroke="#2a2a2a" stroke-width="1.3" clip-path="url(#wallclip)"/>
<line x1="73.5" y1="74.50" x2="84" y2="64.50" stroke="#2a2a2a" stroke-width="1.3" clip-path="url(#wallclip)"/>
<line x1="73.5" y1="78.40" x2="84" y2="68.40" stroke="#2a2a2a" stroke-width="1.3" clip-path="url(#wallclip)"/>
<line x1="73.5" y1="82.30" x2="84" y2="72.30" stroke="#2a2a2a" stroke-width="1.3" clip-path="url(#wallclip)"/>
<line x1="73.5" y1="86.20" x2="84" y2="76.20" stroke="#2a2a2a" stroke-width="1.3" clip-path="url(#wallclip)"/>
<line x1="73.5" y1="90.10" x2="84" y2="80.10" stroke="#2a2a2a" stroke-width="1.3" clip-path="url(#wallclip)"/>
<line x1="73.5" y1="94.00" x2="84" y2="84.00" stroke="#2a2a2a" stroke-width="1.3" clip-path="url(#wallclip)"/>
<line x1="73.5" y1="97.90" x2="84" y2="87.90" stroke="#2a2a2a" stroke-width="1.3" clip-path="url(#wallclip)"/>
<line x1="73.5" y1="101.80" x2="84" y2="91.80" stroke="#2a2a2a" stroke-width="1.3" clip-path="url(#wallclip)"/>
<line x1="73.5" y1="105.70" x2="84" y2="95.70" stroke="#2a2a2a" stroke-width="1.3" clip-path="url(#wallclip)"/>
<line x1="83.90" y1="10.50" x2="83.90" y2="95.50" stroke="#444" stroke-width="0.9" />
<line x1="93.80" y1="15.00" x2="93.80" y2="77.50" stroke="#333" stroke-width="1.4" />
<line x1="106.20" y1="15.00" x2="106.20" y2="77.50" stroke="#333" stroke-width="1.4" />
<line x1="99.80" y1="7.00" x2="99.80" y2="56.00" stroke="#444" stroke-width="1.0" />
<line x1="93.80" y1="19.20" x2="106.20" y2="19.20" stroke="#444" stroke-width="1.0" />
<line x1="93.80" y1="21.00" x2="106.20" y2="21.00" stroke="#555" stroke-width="0.9" />
<line x1="93.80" y1="32.30" x2="106.20" y2="32.30" stroke="#444" stroke-width="1.0" />
<line x1="93.80" y1="44.60" x2="106.20" y2="44.60" stroke="#444" stroke-width="1.0" />
<line x1="93.80" y1="56.20" x2="106.20" y2="56.20" stroke="#444" stroke-width="1.0" />
<line x1="106.00" y1="20.50" x2="94.00" y2="32.50" stroke="#333" stroke-width="1.1" />
<line x1="94.50" y1="33.50" x2="105.50" y2="45.00" stroke="#333" stroke-width="1.1" />
<line x1="94.50" y1="45.00" x2="99.80" y2="56.00" stroke="#3a3a3a" stroke-width="0.9" />
<line x1="97.20" y1="45.00" x2="99.80" y2="56.00" stroke="#3a3a3a" stroke-width="0.9" />
<line x1="102.60" y1="45.00" x2="99.80" y2="56.00" stroke="#3a3a3a" stroke-width="0.9" />
<line x1="105.30" y1="45.00" x2="99.80" y2="56.00" stroke="#3a3a3a" stroke-width="0.9" />
<rect x="93.4" y="56.2" width="13.2" height="21.3" fill="#404040"/>
<ellipse cx="96.9" cy="59.5" rx="2.0" ry="2.1" fill="#e4e4e4"/>
<ellipse cx="102.8" cy="59.5" rx="2.0" ry="2.1" fill="#e4e4e4"/>
<ellipse cx="96.3" cy="64.2" rx="1.7" ry="1.5" fill="#e4e4e4"/>
<ellipse cx="103.4" cy="64.2" rx="1.7" ry="1.5" fill="#e4e4e4"/>
<ellipse cx="97.2" cy="68.4" rx="1.6" ry="1.5" fill="#e4e4e4"/>
<ellipse cx="102.6" cy="68.4" rx="1.6" ry="1.5" fill="#e4e4e4"/>
<ellipse cx="96.4" cy="73.4" rx="1.4" ry="1.7" fill="#e4e4e4"/>
<ellipse cx="100" cy="72.4" rx="1.1" ry="1.2" fill="#e4e4e4"/>
<ellipse cx="103.6" cy="73.4" rx="1.4" ry="1.7" fill="#e4e4e4"/>
<rect x="90" y="59" width="3" height="8.5" rx="1.2" fill="#d0d0d0" stroke="#555" stroke-width="0.7"/>
<rect x="107.2" y="59" width="3" height="8.5" rx="1.2" fill="#d0d0d0" stroke="#555" stroke-width="0.7"/>
<line x1="100.20" y1="77.50" x2="100.20" y2="95.50" stroke="#333" stroke-width="0.9" />
<line x1="96.00" y1="11.20" x2="107.00" y2="11.20" stroke="#333" stroke-width="1.0" />
<path d="M112,11.2 L105.5,9.4 L105.5,13 Z" fill="#222"/>
<line x1="96.50" y1="81.20" x2="107.00" y2="81.20" stroke="#333" stroke-width="1.0" />
<path d="M112.5,81.2 L106,79.4 L106,83 Z" fill="#222"/>
<line x1="58.00" y1="91.40" x2="111.50" y2="91.40" stroke="#444" stroke-width="0.9" />
<path d="M83.8,91.4 L78.5,90 L78.5,92.8 Z" fill="#222"/>
<path d="M100.2,91.4 L105.5,90 L105.5,92.8 Z" fill="#222"/>
<line x1="111.50" y1="8.00" x2="111.50" y2="95.00" stroke="#ccc" stroke-width="0.5" />
<text x="60.00" y="88.90" font-size="6.0" fill="#555" text-anchor="start" >&gt;2,3<tspan dx="1.5">m</tspan></text>
<rect x="22.7" y="256.6" width="549.3" height="85.0" fill="#dedede" stroke="#6c6c6c" stroke-width="1.4"/>
<text x="33.60" y="301.70" font-size="7.2" fill="#333" text-anchor="start" stroke="#333" stroke-width="0.2" textLength="3.6" lengthAdjust="spacingAndGlyphs">H</text>
<text x="39.40" y="301.60" font-size="5.6" fill="#333" text-anchor="start" stroke="#333" stroke-width="0.2">зи</text>
<text x="47.20" y="301.20" font-size="6.2" fill="#333" text-anchor="start" stroke="#333" stroke-width="0.15">=</text>
<text x="63.40" y="279.70" font-size="7.0" fill="#333" text-anchor="start"  stroke="#333" stroke-width="0.3">Altura máxima bajo gancho sin arriostrar (m).</text>
<text x="63.40" y="287.75" font-size="7.0" fill="#333" text-anchor="start" font-style="italic" stroke="#333" stroke-width="0.3">Maximum height under hook without fastening (m).</text>
<text x="63.40" y="295.80" font-size="7.0" fill="#333" text-anchor="start" font-style="italic" stroke="#333" stroke-width="0.3">Hauteur maximale sous crochet sans ancrage (m).</text>
<text x="63.40" y="303.85" font-size="7.0" fill="#333" text-anchor="start" font-style="italic" stroke="#333" stroke-width="0.3">Максимальная высота под крюком без крепления&#160;&#160;(m).</text>
<text x="63.40" y="311.90" font-size="7.0" fill="#333" text-anchor="start" font-style="italic" stroke="#333" stroke-width="0.3">Bağlantısız maksimum kanca altı yüksekliği (m).</text>
<text x="63.60" y="321.20" font-size="5.0" fill="#333" text-anchor="start" stroke="#333" stroke-width="0.25">(m)</text>
<path d="M199.0,321.2 L183.8,321.2 M197.7,321.2 L197.7,314.4 M196.1,321.2 Q196.1,317.5 195.0,317.5 Q193.9,317.5 193.9,321.2 M192.3,321.2 L192.3,318.8 M187.0,321.2 L187.0,318.8 M185.1,319.5 Q184.9,324.3 182.7,323.2 M180.0,321.2 L153.1,321.2 M178.2,321.2 L178.2,314.4 M175.8,319.5 Q175.4,324.3 172.7,323.2 M167.8,321.2 L167.8,318.8 M165.7,321.2 Q165.7,317.5 164.2,317.5 Q162.8,317.5 162.8,321.2 M157.2,321.2 L157.2,314.4 M153.8,321.2 L153.8,318.8 M150.0,321.2 L135.9,321.2 M148.5,321.2 L148.5,318.8 M143.7,321.2 Q143.7,317.5 142.5,317.5 Q141.3,317.5 141.3,321.2 M139.5,321.2 L139.5,318.8 M133.0,321.2 L101.0,321.2 M131.3,321.2 L131.3,314.4 M128.1,321.2 L128.1,314.4 M122.8,321.2 Q122.8,317.5 121.5,317.5 Q120.1,317.5 120.1,321.2 M118.2,321.2 L118.2,318.8 M114.8,321.2 L114.8,314.4 M108.2,321.2 L108.2,314.4 M105.0,321.2 L105.0,318.8 M103.0,321.2 Q103.0,317.5 101.7,317.5 Q100.3,317.5 100.3,321.2 M98.0,321.2 L86.0,321.2 M96.4,321.2 L96.4,318.8 M91.2,321.2 Q91.2,317.5 89.9,317.5 Q88.6,317.5 88.6,321.2 M87.6,319.5 Q87.3,324.3 84.7,323.2 M84.0,321.2 L75.0,321.2 M83.3,319.5 Q83.0,324.3 80.3,323.2 M79.0,321.2 L79.0,318.8 M75.7,321.2 L75.7,314.4" fill="none" stroke="#333" stroke-width="1.25" stroke-linecap="round"/><rect x="189.1" y="315.5" width="1.3" height="1.2" fill="#333"/><rect x="170.7" y="315.5" width="1.3" height="1.2" fill="#333"/><rect x="160.2" y="315.5" width="1.3" height="1.2" fill="#333"/><rect x="144.9" y="315.5" width="1.3" height="1.2" fill="#333"/><rect x="135.9" y="315.5" width="1.3" height="1.2" fill="#333"/><rect x="124.2" y="315.5" width="1.3" height="1.2" fill="#333"/><rect x="111.0" y="315.5" width="1.3" height="1.2" fill="#333"/><rect x="92.5" y="323.0" width="1.3" height="1.2" fill="#333"/>
<text x="319" y="269.30" font-size="7.2" fill="#333" stroke="#333" stroke-width="0.2">TM 6-150</text>
<text x="427.5" y="269.30" font-size="7.2" fill="#333" stroke="#333" stroke-width="0.2" text-anchor="end">161.35.700</text>
<text x="319" y="277.50" font-size="7.2" fill="#333" stroke="#333" stroke-width="0.2">T3-90</text>
<text x="427.5" y="277.50" font-size="7.2" fill="#333" stroke="#333" stroke-width="0.2" text-anchor="end">133.32.000</text>
<text x="319" y="285.70" font-size="7.2" fill="#333" stroke="#333" stroke-width="0.2">T6-90</text>
<text x="427.5" y="285.70" font-size="7.2" fill="#333" stroke="#333" stroke-width="0.2" text-anchor="end">133.31.000</text>
<text x="319" y="293.90" font-size="7.2" fill="#333" stroke="#333" stroke-width="0.2">T6-150</text>
<text x="427.5" y="293.90" font-size="7.2" fill="#333" stroke="#333" stroke-width="0.2" text-anchor="end">161.31.000</text>
<text x="319" y="302.10" font-size="7.2" fill="#333" stroke="#333" stroke-width="0.2">T6-150A</text>
<text x="427.5" y="302.10" font-size="7.2" fill="#333" stroke="#333" stroke-width="0.2" text-anchor="end">161.31.300</text>
<text x="319" y="310.30" font-size="7.2" fill="#333" stroke="#333" stroke-width="0.2">AN 90</text>
<text x="427.5" y="310.30" font-size="7.2" fill="#333" stroke="#333" stroke-width="0.2" text-anchor="end">133.21.000</text>
<text x="319" y="318.50" font-size="7.2" fill="#333" stroke="#333" stroke-width="0.2">AN 150</text>
<text x="427.5" y="318.50" font-size="7.2" fill="#333" stroke="#333" stroke-width="0.2" text-anchor="end">161.21.000</text>
<text x="319" y="326.70" font-size="7.2" fill="#333" stroke="#333" stroke-width="0.2">BNI 45-100</text>
<text x="427.5" y="326.70" font-size="7.2" fill="#333" stroke="#333" stroke-width="0.2" text-anchor="end">145.20.500</text>
<text x="319" y="334.90" font-size="7.2" fill="#333" stroke="#333" stroke-width="0.2">BNI 6-150</text>
<text x="427.5" y="334.90" font-size="7.2" fill="#333" stroke="#333" stroke-width="0.2" text-anchor="end">161.20.700</text>
<text x="447.3" y="269.30" font-size="7.2" fill="#333" stroke="#333" stroke-width="0.2">ABH 100</text>
<text x="555.6" y="269.30" font-size="7.2" fill="#333" stroke="#333" stroke-width="0.2" text-anchor="end">201.23.000</text>
<text x="447.3" y="277.50" font-size="7.2" fill="#333" stroke="#333" stroke-width="0.2">P14-1R</text>
<text x="555.6" y="277.50" font-size="7.2" fill="#333" stroke="#333" stroke-width="0.2" text-anchor="end">145.40.500</text>
<text x="447.3" y="285.70" font-size="7.2" fill="#333" stroke="#333" stroke-width="0.2">P14-2N</text>
<text x="555.6" y="285.70" font-size="7.2" fill="#333" stroke="#333" stroke-width="0.2" text-anchor="end">145.41.500</text>
<text x="447.3" y="293.90" font-size="7.2" fill="#333" stroke="#333" stroke-width="0.2">P14-16R</text>
<text x="555.6" y="293.90" font-size="7.2" fill="#333" stroke="#333" stroke-width="0.2" text-anchor="end">145.42.800</text>
<text x="447.3" y="302.10" font-size="7.2" fill="#333" stroke="#333" stroke-width="0.2">P14-4N</text>
<text x="555.6" y="302.10" font-size="7.2" fill="#333" stroke="#333" stroke-width="0.2" text-anchor="end">145.43.000</text>
<text x="447.3" y="310.30" font-size="7.2" fill="#333" stroke="#333" stroke-width="0.2">P14-17N</text>
<text x="555.6" y="310.30" font-size="7.2" fill="#333" stroke="#333" stroke-width="0.2" text-anchor="end">145.44.500</text>
<text x="447.3" y="318.50" font-size="7.2" fill="#333" stroke="#333" stroke-width="0.2">P14-15N</text>
<text x="555.6" y="318.50" font-size="7.2" fill="#333" stroke="#333" stroke-width="0.2" text-anchor="end">145.45.500</text>
<text x="447.3" y="326.70" font-size="7.2" fill="#333" stroke="#333" stroke-width="0.2">P14-6N</text>
<text x="555.6" y="326.70" font-size="7.2" fill="#333" stroke="#333" stroke-width="0.2" text-anchor="end">145.45.000</text>
<text x="447.3" y="334.90" font-size="7.2" fill="#333" stroke="#333" stroke-width="0.2">P14-8N</text>
<text x="555.6" y="334.90" font-size="7.2" fill="#333" stroke="#333" stroke-width="0.2" text-anchor="end">145.47.500</text>
<line x1="352.31" y1="267.00" x2="391.00" y2="267.00" stroke="#707070" stroke-width="0.75" />
<line x1="340.31" y1="275.20" x2="391.00" y2="275.20" stroke="#707070" stroke-width="0.75" />
<line x1="340.31" y1="283.40" x2="391.00" y2="283.40" stroke="#707070" stroke-width="0.75" />
<line x1="344.31" y1="291.60" x2="391.00" y2="291.60" stroke="#707070" stroke-width="0.75" />
<line x1="349.11" y1="299.80" x2="391.00" y2="299.80" stroke="#707070" stroke-width="0.75" />
<line x1="341.51" y1="308.00" x2="391.00" y2="308.00" stroke="#707070" stroke-width="0.75" />
<line x1="345.51" y1="316.20" x2="391.00" y2="316.20" stroke="#707070" stroke-width="0.75" />
<line x1="357.92" y1="324.40" x2="391.00" y2="324.40" stroke="#707070" stroke-width="0.75" />
<line x1="353.92" y1="332.60" x2="391.00" y2="332.60" stroke="#707070" stroke-width="0.75" />
<line x1="478.62" y1="267.00" x2="519.50" y2="267.00" stroke="#707070" stroke-width="0.75" />
<line x1="474.21" y1="275.20" x2="519.50" y2="275.20" stroke="#707070" stroke-width="0.75" />
<line x1="474.21" y1="283.40" x2="519.50" y2="283.40" stroke="#707070" stroke-width="0.75" />
<line x1="478.22" y1="291.60" x2="519.50" y2="291.60" stroke="#707070" stroke-width="0.75" />
<line x1="474.21" y1="299.80" x2="519.50" y2="299.80" stroke="#707070" stroke-width="0.75" />
<line x1="478.22" y1="308.00" x2="519.50" y2="308.00" stroke="#707070" stroke-width="0.75" />
<line x1="478.22" y1="316.20" x2="519.50" y2="316.20" stroke="#707070" stroke-width="0.75" />
<line x1="474.21" y1="324.40" x2="519.50" y2="324.40" stroke="#707070" stroke-width="0.75" />
<line x1="474.21" y1="332.60" x2="519.50" y2="332.60" stroke="#707070" stroke-width="0.75" />
<text x="62.80" y="368.60" font-size="7.15" fill="#333" text-anchor="start" >(H) TRASLACIÓN / <tspan font-style="italic">TRAVELLING</tspan> /</text>
<text x="42.50" y="379.00" font-size="5.0" fill="#555" text-anchor="start" font-style="italic">TRASLATION / ПЕРЕМЕЩЕНИЕ / RAY YÜRÜYÜŞLÜ /</text>
<path d="M195.5,376.8 L171.4,376.8 M195.2,376.8 Q195.2,373.5 193.9,373.5 Q192.7,373.5 192.7,376.8 M187.7,376.8 L187.7,374.7 M182.4,375.3 Q182.1,379.5 179.6,378.6 M178.3,376.8 L178.3,374.7 M176.4,376.8 Q176.4,373.5 175.2,373.5 Q173.9,373.5 173.9,376.8 M172.1,376.8 L172.1,374.7" fill="none" stroke="#333" stroke-width="1.25" stroke-linecap="round"/><rect x="190.2" y="371.7" width="1.3" height="1.2" fill="#333"/><rect x="184.0" y="371.7" width="1.3" height="1.2" fill="#333"/>
<text x="302.00" y="368.40" font-size="7.2" fill="#333" text-anchor="start" >(H) ESTACIONARIA / <tspan font-style="italic">STATIONARY</tspan> /</text>
<text x="285.70" y="379.50" font-size="5.0" fill="#555" text-anchor="start" font-style="italic">STATIONNAIRE / СТАЦИОНАРНОЕ СОСТОЯНИЕ / SABİT /</text>
<path d="M437.5,378.6 L425.1,378.6 M437.3,378.6 Q437.3,375.3 436.4,375.3 Q435.6,375.3 435.6,378.6 M432.1,378.6 L432.1,376.5 M427.8,378.6 L427.8,372.6 M425.6,378.6 L425.6,376.5" fill="none" stroke="#333" stroke-width="1.1" stroke-linecap="round"/><rect x="433.6" y="373.5" width="1.3" height="1.2" fill="#333"/><rect x="429.3" y="373.5" width="1.3" height="1.2" fill="#333"/>
<path d="M62.8,390.5 Q62.8,385.8 67.8,385.8 L118,385.8 Q121,385.8 121,381.8 Q121,385.8 124,385.8 L172.5,385.8 Q177.5,385.8 177.5,390.5" fill="none" stroke="#333" stroke-width="1.1"/>
<path d="M201.0,390.5 Q201.0,385.6 206.0,385.6 L342.7,385.6 Q345.7,385.6 345.7,381.8 Q345.7,385.6 348.7,385.6 L484.5,385.6 Q489.5,385.6 489.5,390.5" fill="none" stroke="#333" stroke-width="1.1"/>
<rect x="77.2" y="409.4" width="14.399999999999991" height="6.800000000000011" fill="#fff" stroke="#444" stroke-width="0.9"/>
<text x="84.40" y="414.70" font-size="5.6" fill="#333" text-anchor="middle" stroke="#333" stroke-width="0.2">42.7</text>
<line x1="84.10" y1="416.20" x2="84.10" y2="424.40" stroke="#444" stroke-width="0.8" />
<rect x="80.2" y="424.4" width="7.799999999999997" height="27.600000000000023" fill="#b4b4b4"/>
<path d="M80.2,424.40 L88.0,429.90 M88.0,424.40 L80.2,429.90" stroke="#1e1e1e" stroke-width="1.5"/>
<circle cx="84.10" cy="427.15" r="1.3" fill="#2a2a2a"/>
<path d="M80.2,429.90 L88.0,435.40 M88.0,429.90 L80.2,435.40" stroke="#1e1e1e" stroke-width="1.5"/>
<circle cx="84.10" cy="432.65" r="1.3" fill="#2a2a2a"/>
<path d="M80.2,435.40 L88.0,440.90 M88.0,435.40 L80.2,440.90" stroke="#1e1e1e" stroke-width="1.5"/>
<circle cx="84.10" cy="438.15" r="1.3" fill="#2a2a2a"/>
<path d="M80.2,440.90 L88.0,446.40 M88.0,440.90 L80.2,446.40" stroke="#1e1e1e" stroke-width="1.5"/>
<circle cx="84.10" cy="443.65" r="1.3" fill="#2a2a2a"/>
<path d="M80.2,446.40 L88.0,451.90 M88.0,446.40 L80.2,451.90" stroke="#1e1e1e" stroke-width="1.5"/>
<circle cx="84.10" cy="449.15" r="1.3" fill="#2a2a2a"/>
<path d="M80.2,451.90 L88.0,457.40 M88.0,451.90 L80.2,457.40" stroke="#1e1e1e" stroke-width="1.5"/>
<circle cx="84.10" cy="454.65" r="1.3" fill="#2a2a2a"/>
<rect x="80.8" y="424.4" width="6.599999999999997" height="27.600000000000023" fill="none" stroke="#222" stroke-width="1.2"/>
<rect x="143.3" y="399.0" width="18.299999999999983" height="7.600000000000023" fill="#fff" stroke="#444" stroke-width="0.9"/>
<text x="152.45" y="405.10" font-size="5.6" fill="#333" text-anchor="middle" stroke="#333" stroke-width="0.2">51.4</text>
<line x1="152.20" y1="406.60" x2="152.20" y2="411.00" stroke="#444" stroke-width="0.8" />
<rect x="148.4" y="411.0" width="7.599999999999994" height="41.0" fill="#b4b4b4"/>
<path d="M148.4,411.00 L156.0,416.50 M156.0,411.00 L148.4,416.50" stroke="#1e1e1e" stroke-width="1.5"/>
<circle cx="152.20" cy="413.75" r="1.3" fill="#2a2a2a"/>
<path d="M148.4,416.50 L156.0,422.00 M156.0,416.50 L148.4,422.00" stroke="#1e1e1e" stroke-width="1.5"/>
<circle cx="152.20" cy="419.25" r="1.3" fill="#2a2a2a"/>
<path d="M148.4,422.00 L156.0,427.50 M156.0,422.00 L148.4,427.50" stroke="#1e1e1e" stroke-width="1.5"/>
<circle cx="152.20" cy="424.75" r="1.3" fill="#2a2a2a"/>
<path d="M148.4,427.50 L156.0,433.00 M156.0,427.50 L148.4,433.00" stroke="#1e1e1e" stroke-width="1.5"/>
<circle cx="152.20" cy="430.25" r="1.3" fill="#2a2a2a"/>
<path d="M148.4,433.00 L156.0,438.50 M156.0,433.00 L148.4,438.50" stroke="#1e1e1e" stroke-width="1.5"/>
<circle cx="152.20" cy="435.75" r="1.3" fill="#2a2a2a"/>
<path d="M148.4,438.50 L156.0,444.00 M156.0,438.50 L148.4,444.00" stroke="#1e1e1e" stroke-width="1.5"/>
<circle cx="152.20" cy="441.25" r="1.3" fill="#2a2a2a"/>
<path d="M148.4,444.00 L156.0,449.50 M156.0,444.00 L148.4,449.50" stroke="#1e1e1e" stroke-width="1.5"/>
<circle cx="152.20" cy="446.75" r="1.3" fill="#2a2a2a"/>
<path d="M148.4,449.50 L156.0,455.00 M156.0,449.50 L148.4,455.00" stroke="#1e1e1e" stroke-width="1.5"/>
<circle cx="152.20" cy="452.25" r="1.3" fill="#2a2a2a"/>
<rect x="149.0" y="411.0" width="6.399999999999994" height="41.0" fill="none" stroke="#222" stroke-width="1.2"/>
<rect x="220.0" y="399.0" width="18.400000000000006" height="7.399999999999977" fill="#fff" stroke="#444" stroke-width="0.9"/>
<text x="229.20" y="404.90" font-size="5.6" fill="#333" text-anchor="middle" stroke="#333" stroke-width="0.2">60.2</text>
<line x1="229.20" y1="406.40" x2="229.20" y2="411.00" stroke="#444" stroke-width="0.8" />
<rect x="225.6" y="411.0" width="7.200000000000017" height="41.0" fill="#b4b4b4"/>
<path d="M225.6,411.00 L232.8,416.50 M232.8,411.00 L225.6,416.50" stroke="#1e1e1e" stroke-width="1.5"/>
<circle cx="229.20" cy="413.75" r="1.3" fill="#2a2a2a"/>
<path d="M225.6,416.50 L232.8,422.00 M232.8,416.50 L225.6,422.00" stroke="#1e1e1e" stroke-width="1.5"/>
<circle cx="229.20" cy="419.25" r="1.3" fill="#2a2a2a"/>
<path d="M225.6,422.00 L232.8,427.50 M232.8,422.00 L225.6,427.50" stroke="#1e1e1e" stroke-width="1.5"/>
<circle cx="229.20" cy="424.75" r="1.3" fill="#2a2a2a"/>
<path d="M225.6,427.50 L232.8,433.00 M232.8,427.50 L225.6,433.00" stroke="#1e1e1e" stroke-width="1.5"/>
<circle cx="229.20" cy="430.25" r="1.3" fill="#2a2a2a"/>
<path d="M225.6,433.00 L232.8,438.50 M232.8,433.00 L225.6,438.50" stroke="#1e1e1e" stroke-width="1.5"/>
<circle cx="229.20" cy="435.75" r="1.3" fill="#2a2a2a"/>
<path d="M225.6,438.50 L232.8,444.00 M232.8,438.50 L225.6,444.00" stroke="#1e1e1e" stroke-width="1.5"/>
<circle cx="229.20" cy="441.25" r="1.3" fill="#2a2a2a"/>
<path d="M225.6,444.00 L232.8,449.50 M232.8,444.00 L225.6,449.50" stroke="#1e1e1e" stroke-width="1.5"/>
<circle cx="229.20" cy="446.75" r="1.3" fill="#2a2a2a"/>
<path d="M225.6,449.50 L232.8,455.00 M232.8,449.50 L225.6,455.00" stroke="#1e1e1e" stroke-width="1.5"/>
<circle cx="229.20" cy="452.25" r="1.3" fill="#2a2a2a"/>
<rect x="226.2" y="411.0" width="6.000000000000017" height="41.0" fill="none" stroke="#222" stroke-width="1.2"/>
<rect x="288.6" y="412.0" width="15.399999999999977" height="7.0" fill="#fff" stroke="#444" stroke-width="0.9"/>
<text x="296.30" y="417.50" font-size="5.6" fill="#333" text-anchor="middle" stroke="#333" stroke-width="0.2">41.7</text>
<line x1="296.20" y1="419.00" x2="296.20" y2="427.00" stroke="#444" stroke-width="0.8" />
<rect x="292.4" y="427.0" width="7.600000000000023" height="25.0" fill="#b4b4b4"/>
<path d="M292.4,427.00 L300.0,432.50 M300.0,427.00 L292.4,432.50" stroke="#1e1e1e" stroke-width="1.5"/>
<circle cx="296.20" cy="429.75" r="1.3" fill="#2a2a2a"/>
<path d="M292.4,432.50 L300.0,438.00 M300.0,432.50 L292.4,438.00" stroke="#1e1e1e" stroke-width="1.5"/>
<circle cx="296.20" cy="435.25" r="1.3" fill="#2a2a2a"/>
<path d="M292.4,438.00 L300.0,443.50 M300.0,438.00 L292.4,443.50" stroke="#1e1e1e" stroke-width="1.5"/>
<circle cx="296.20" cy="440.75" r="1.3" fill="#2a2a2a"/>
<path d="M292.4,443.50 L300.0,449.00 M300.0,443.50 L292.4,449.00" stroke="#1e1e1e" stroke-width="1.5"/>
<circle cx="296.20" cy="446.25" r="1.3" fill="#2a2a2a"/>
<path d="M292.4,449.00 L300.0,454.50 M300.0,449.00 L292.4,454.50" stroke="#1e1e1e" stroke-width="1.5"/>
<circle cx="296.20" cy="451.75" r="1.3" fill="#2a2a2a"/>
<path d="M292.4,454.50 L300.0,460.00 M300.0,454.50 L292.4,460.00" stroke="#1e1e1e" stroke-width="1.5"/>
<circle cx="296.20" cy="457.25" r="1.3" fill="#2a2a2a"/>
<rect x="293.0" y="427.0" width="6.400000000000023" height="25.0" fill="none" stroke="#222" stroke-width="1.2"/>
<rect x="373.6" y="408.8" width="15.399999999999977" height="7.599999999999966" fill="#fff" stroke="#444" stroke-width="0.9"/>
<text x="381.30" y="414.90" font-size="5.6" fill="#333" text-anchor="middle" stroke="#333" stroke-width="0.2">42.4</text>
<line x1="381.20" y1="416.40" x2="381.20" y2="424.00" stroke="#444" stroke-width="0.8" />
<rect x="377.6" y="424.0" width="7.199999999999989" height="28.0" fill="#b4b4b4"/>
<path d="M377.6,424.00 L384.8,429.50 M384.8,424.00 L377.6,429.50" stroke="#1e1e1e" stroke-width="1.5"/>
<circle cx="381.20" cy="426.75" r="1.3" fill="#2a2a2a"/>
<path d="M377.6,429.50 L384.8,435.00 M384.8,429.50 L377.6,435.00" stroke="#1e1e1e" stroke-width="1.5"/>
<circle cx="381.20" cy="432.25" r="1.3" fill="#2a2a2a"/>
<path d="M377.6,435.00 L384.8,440.50 M384.8,435.00 L377.6,440.50" stroke="#1e1e1e" stroke-width="1.5"/>
<circle cx="381.20" cy="437.75" r="1.3" fill="#2a2a2a"/>
<path d="M377.6,440.50 L384.8,446.00 M384.8,440.50 L377.6,446.00" stroke="#1e1e1e" stroke-width="1.5"/>
<circle cx="381.20" cy="443.25" r="1.3" fill="#2a2a2a"/>
<path d="M377.6,446.00 L384.8,451.50 M384.8,446.00 L377.6,451.50" stroke="#1e1e1e" stroke-width="1.5"/>
<circle cx="381.20" cy="448.75" r="1.3" fill="#2a2a2a"/>
<path d="M377.6,451.50 L384.8,457.00 M384.8,451.50 L377.6,457.00" stroke="#1e1e1e" stroke-width="1.5"/>
<circle cx="381.20" cy="454.25" r="1.3" fill="#2a2a2a"/>
<rect x="378.20000000000005" y="424.0" width="5.9999999999999885" height="28.0" fill="none" stroke="#222" stroke-width="1.2"/>
<rect x="445.6" y="399.0" width="17.799999999999955" height="7.399999999999977" fill="#fff" stroke="#444" stroke-width="0.9"/>
<text x="454.50" y="404.90" font-size="5.6" fill="#333" text-anchor="middle" stroke="#333" stroke-width="0.2">51.2</text>
<line x1="454.20" y1="406.40" x2="454.20" y2="411.00" stroke="#444" stroke-width="0.8" />
<rect x="450.4" y="411.0" width="7.600000000000023" height="41.0" fill="#b4b4b4"/>
<path d="M450.4,411.00 L458.0,416.50 M458.0,411.00 L450.4,416.50" stroke="#1e1e1e" stroke-width="1.5"/>
<circle cx="454.20" cy="413.75" r="1.3" fill="#2a2a2a"/>
<path d="M450.4,416.50 L458.0,422.00 M458.0,416.50 L450.4,422.00" stroke="#1e1e1e" stroke-width="1.5"/>
<circle cx="454.20" cy="419.25" r="1.3" fill="#2a2a2a"/>
<path d="M450.4,422.00 L458.0,427.50 M458.0,422.00 L450.4,427.50" stroke="#1e1e1e" stroke-width="1.5"/>
<circle cx="454.20" cy="424.75" r="1.3" fill="#2a2a2a"/>
<path d="M450.4,427.50 L458.0,433.00 M458.0,427.50 L450.4,433.00" stroke="#1e1e1e" stroke-width="1.5"/>
<circle cx="454.20" cy="430.25" r="1.3" fill="#2a2a2a"/>
<path d="M450.4,433.00 L458.0,438.50 M458.0,433.00 L450.4,438.50" stroke="#1e1e1e" stroke-width="1.5"/>
<circle cx="454.20" cy="435.75" r="1.3" fill="#2a2a2a"/>
<path d="M450.4,438.50 L458.0,444.00 M458.0,438.50 L450.4,444.00" stroke="#1e1e1e" stroke-width="1.5"/>
<circle cx="454.20" cy="441.25" r="1.3" fill="#2a2a2a"/>
<path d="M450.4,444.00 L458.0,449.50 M458.0,444.00 L450.4,449.50" stroke="#1e1e1e" stroke-width="1.5"/>
<circle cx="454.20" cy="446.75" r="1.3" fill="#2a2a2a"/>
<path d="M450.4,449.50 L458.0,455.00 M458.0,449.50 L450.4,455.00" stroke="#1e1e1e" stroke-width="1.5"/>
<circle cx="454.20" cy="452.25" r="1.3" fill="#2a2a2a"/>
<rect x="451.0" y="411.0" width="6.400000000000023" height="41.0" fill="none" stroke="#222" stroke-width="1.2"/>
</g>
</svg>
</body></html>
